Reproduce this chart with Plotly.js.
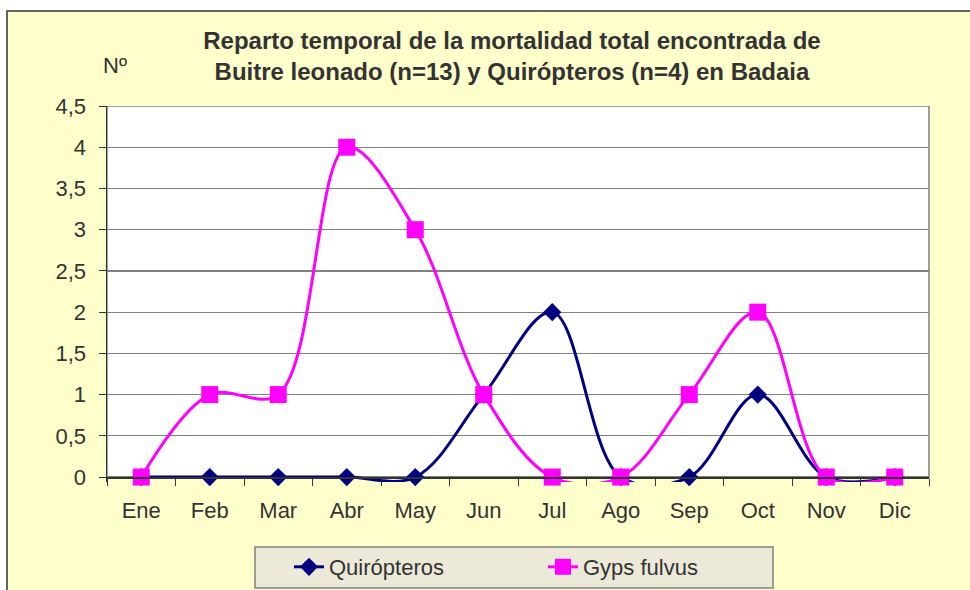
<!DOCTYPE html>
<html>
<head>
<meta charset="utf-8">
<script src="https://cdn.plot.ly/plotly-3.0.1.min.js"></script>
<style>html,body{margin:0;padding:0;background:#fff;}#chart{width:970px;height:590px;}</style>
</head>
<body>
<div id="chart"></div>
<script>
var months = ['Ene','Feb','Mar','Abr','May','Jun','Jul','Ago','Sep','Oct','Nov','Dic'];
var quiropteros = [0,0,0,0,0,1,2,0,0,1,0,0];
var gypsFulvus = [0,1,1,4,3,1,0,0,1,2,0,0];
var yTickVals = [0,0.5,1,1.5,2,2.5,3,3.5,4,4.5];
var yTickText = ['0','0,5','1','1,5','2','2,5','3','3,5','4','4,5'];
var titleLine1 = 'Reparto temporal de la mortalidad total encontrada de';
var titleLine2 = 'Buitre leonado (n=13) y Quirópteros (n=4) en Badaia';

var yMin = -0.06, yMax = 4.5;
var W = 970, H = 590;
var mL = 107, mR = 41, mT = 106, mB = 108;
var pw = W - mL - mR, ph = H - mT - mB;
function px2x(p){ return (p - mL) / pw; }
function px2y(p){ return (H - mB - p) / ph; }
var font = 'Liberation Sans, Arial, sans-serif';
var txt = '#333333';

var traces = [
  {x: months, y: quiropteros, name: 'Quirópteros', type: 'scatter', mode: 'lines+markers',
   line: {color: '#000080', width: 3, shape: 'spline', smoothing: 1},
   marker: {symbol: 'diamond', size: 14, color: '#000080'}, cliponaxis: false},
  {x: months, y: gypsFulvus, name: 'Gyps fulvus', type: 'scatter', mode: 'lines+markers',
   line: {color: '#FF00FF', width: 3, shape: 'spline', smoothing: 1},
   marker: {symbol: 'square', size: 17, color: '#FF00FF'}, cliponaxis: false}
];

var layout = {
  width: W, height: H,
  margin: {l: mL, r: mR, t: mT, b: mB, pad: 0},
  paper_bgcolor: '#ffffff',
  plot_bgcolor: 'rgba(0,0,0,0)',
  separators: ',.',
  font: {family: font, size: 22, color: txt},
  title: {text: '<b>' + titleLine1 + '<br>' + titleLine2 + '</b>',
          font: {family: font, size: 24, color: txt},
          x: 512 / W, xanchor: 'center', xref: 'container',
          y: 1 - 49 / H, yanchor: 'middle', yref: 'container'},
  showlegend: true,
  legend: {orientation: 'h', xref: 'container', yref: 'container',
           x: 289 / W, xanchor: 'left', y: 1 - 567 / H, yanchor: 'middle',
           bgcolor: 'rgba(0,0,0,0)', borderwidth: 0,
           font: {family: font, size: 22, color: txt},
           entrywidth: 209, entrywidthmode: 'pixels', traceorder: 'normal'},
  xaxis: {type: 'category', range: [-0.5, 11.5], anchor: 'free', position: (0 - yMin) / (yMax - yMin),
          showline: true, linecolor: '#333333', linewidth: 1.5,
          ticks: 'outside', tickson: 'boundaries', ticklen: 7, tickcolor: '#333333', tickwidth: 1,
          showgrid: false, zeroline: false, ticklabelstandoff: 13,
          tickfont: {family: font, size: 22, color: txt}, fixedrange: true},
  yaxis: {range: [yMin, yMax], tickvals: yTickVals, ticktext: yTickText,
          showline: true, linecolor: '#333333', linewidth: 1.5,
          ticks: 'outside', ticklen: 7, tickcolor: '#333333', tickwidth: 1,
          showgrid: true, gridcolor: '#808080', gridwidth: 1.2, zeroline: false,
          ticklabelstandoff: 8,
          tickfont: {family: font, size: 22, color: txt}, fixedrange: true},
  shapes: [
    {type: 'rect', xref: 'paper', yref: 'paper', x0: px2x(7), x1: px2x(1000), y0: px2y(620), y1: px2y(11),
     fillcolor: '#FFFFCC', line: {color: '#333333', width: 1.5}, layer: 'below'},
    {type: 'rect', xref: 'paper', yref: 'paper', x0: px2x(255), x1: px2x(773), y0: px2y(588), y1: px2y(547),
     fillcolor: '#ECE9D8', line: {color: '#808080', width: 1.5}, layer: 'below'},
    {type: 'rect', xref: 'paper', yref: 'y', x0: 0, x1: 1, y0: 0, y1: yMax,
     fillcolor: '#FFFFFF', line: {color: '#808080', width: 1.5}, layer: 'below'}
  ],
  annotations: [
    {text: 'Nº', xref: 'paper', yref: 'paper', x: px2x(115), y: px2y(66), xanchor: 'center', yanchor: 'middle',
     showarrow: false, font: {family: font, size: 22, color: txt}}
  ]
};

Plotly.newPlot('chart', traces, layout, {displayModeBar: false, staticPlot: true});
</script>
</body>
</html>
